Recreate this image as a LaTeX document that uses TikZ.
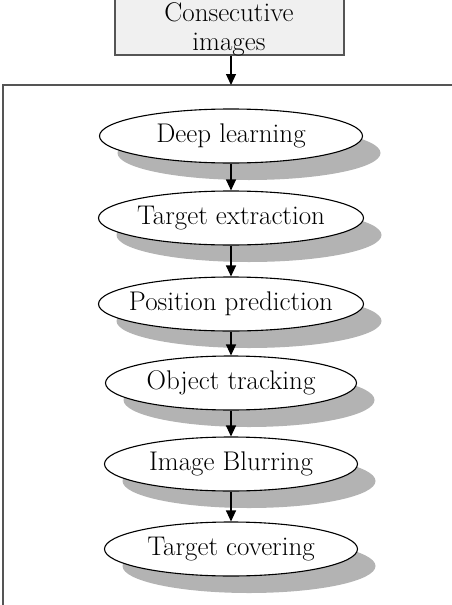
\documentclass[tikz,border=0pt]{standalone}
\usetikzlibrary{shapes.geometric,shadows,arrows.meta}
\definecolor{shadowgray}{HTML}{B3B3B3}
\definecolor{boxfill}{HTML}{F0F0F0}
\definecolor{edgegray}{HTML}{555555}
\newcommand{\fixw}[1]{\makebox[0pt]{#1}}
\begin{document}
\begin{tikzpicture}[x=1pt,y=1pt,
  txt/.style={font=\fontsize{27}{29}\selectfont},
  stage/.style={ellipse, draw=black, line width=1.1pt, fill=white, inner sep=0pt,
    minimum height=54pt, txt,
    drop shadow={shadow xshift=18pt,shadow yshift=-17pt,fill=shadowgray,opacity=1}},
  flow/.style={line width=1.1pt, -{Triangle[length=11pt,width=10pt]}}]
\useasboundingbox (0,0) rectangle (452,-605);
\begin{scope}
\clip (0,0) rectangle (452,-605);
\draw[edgegray, line width=1.3pt] (3,-85) rectangle (480,-640);
\node[draw=edgegray, line width=1.3pt, fill=boxfill, minimum width=229pt, minimum height=70pt,
  inner sep=0pt] (top) at (229.5,-20) {};
\end{scope}
\node[txt, align=center, anchor=base, inner sep=0pt] (toplbl) at (229,-50) {Consecutive\\images};
\coordinate (ftop) at (231,-85);
\node[stage, minimum width=263pt] (dl) at (231,-136) {\fixw{Deep learning}};
\node[stage, minimum width=265pt] (te) at (231,-218) {\fixw{Target extraction}};
\node[stage, minimum width=265pt] (pp) at (231,-304) {\fixw{Position prediction}};
\node[stage, minimum width=251pt] (ot) at (231,-383) {\fixw{Object tracking}};
\node[stage, minimum width=253pt] (ib) at (231,-464) {\fixw{Image Blurring}};
\node[stage, minimum width=253pt] (tc) at (231,-549) {\fixw{Target covering}};
\draw[flow] (top.south -| ftop) -- (ftop);
\draw[flow] (dl.south) -- (te.north);
\draw[flow] (te.south) -- (pp.north);
\draw[flow] (pp.south) -- (ot.north);
\draw[flow] (ot.south) -- (ib.north);
\draw[flow] (ib.south) -- (tc.north);
\end{tikzpicture}
\end{document}
